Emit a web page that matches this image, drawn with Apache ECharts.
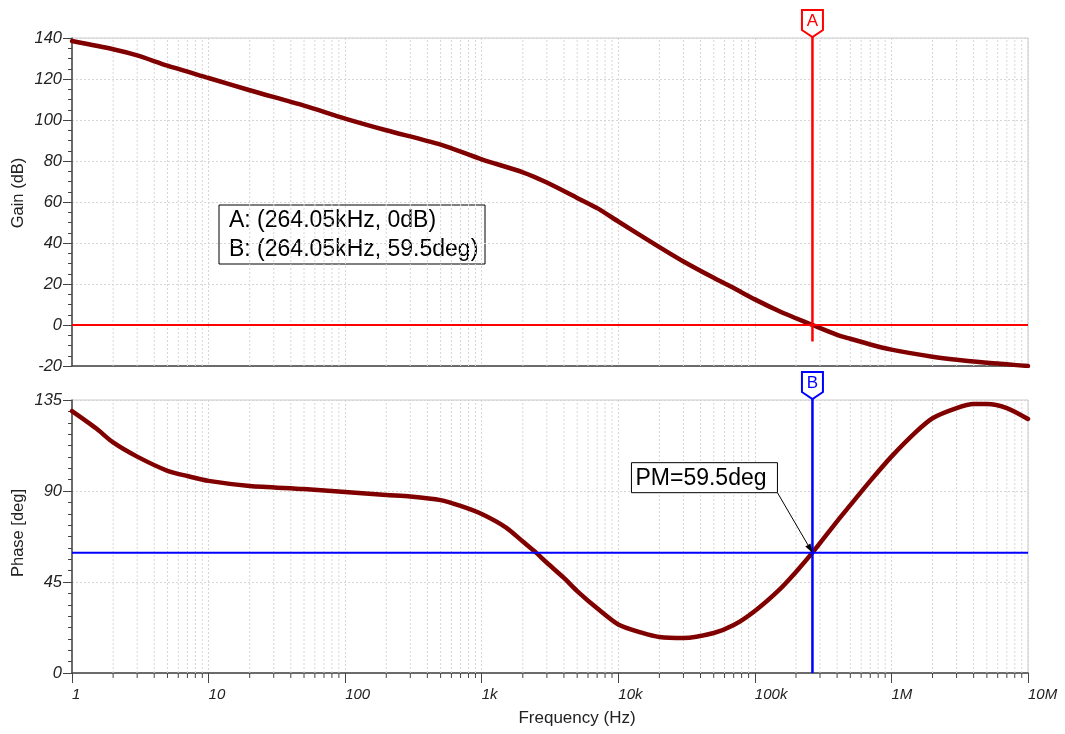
<!DOCTYPE html>
<html><head><meta charset="utf-8">
<script src="https://cdn.jsdelivr.net/npm/echarts@6/dist/echarts.min.js"></script>
<style>html,body{margin:0;padding:0;background:#fff}#c{width:1065px;height:734px}</style>
</head><body><div id="c"></div>
<script>
// ---- data ----
const gainFreqs = [1, 2, 3, 5, 10, 20, 50, 100, 200, 500, 1000, 2000, 3000, 5000, 7000, 10000, 20000, 30000, 50000, 70000, 100000, 150000, 200000, 264050, 400000, 500000, 700000, 1e6, 2e6, 3e6, 5e6, 7e6, 1e7];
const gainDb    = [138.5, 134.5, 131.5, 126.5, 120.5, 114.5, 107, 100.7, 95, 88, 80.8, 74.5, 69.5, 62, 57, 50.5, 38, 31, 23, 18, 12.5, 6.8, 3.3, 0, -4.8, -6.7, -9.5, -12, -15.5, -17, -18.4, -19.2, -20];
const phaseFreqs = [1, 1.5, 2, 3, 5, 7, 10, 20, 50, 100, 200, 300, 500, 700, 1000, 1500, 2000, 2500, 3000, 4000, 5000, 7000, 10000, 15000, 20000, 30000, 50000, 70000, 100000, 150000, 200000, 264050, 400000, 500000, 700000, 1e6, 1.5e6, 2e6, 3e6, 4e6, 5e6, 7e6, 1e7];
const phaseDeg   = [129.5, 121, 114, 107, 100, 97.4, 95, 92.5, 91, 89.5, 88, 87.3, 85.5, 82.6, 78.6, 72, 65, 59.5, 54.5, 47, 40.5, 32, 24, 19.8, 17.8, 17.3, 19.8, 23.7, 30.7, 41, 50, 59.5, 75, 83, 95, 107, 119, 126, 131, 133, 133, 131, 125.6];
const decadeLabels = ['1', '10', '100', '1k', '10k', '100k', '1M', '10M'];
const cursorFreq = 264050;   // Hz
const cursorGain = 0;        // dB
const cursorPhase = 59.5;    // deg
const gainRange = { min: -20, max: 140, interval: 20 };
const phaseRange = { min: 0, max: 135, interval: 45 };
const cursorALow = -8;       // where the A cursor line stops (dB)

// ---- helpers ----
const lg = Math.log10;
const minorLogs = [];
for (let d = 0; d < 7; d++) for (let k = 2; k <= 9; k++) minorLogs.push(lg(k * Math.pow(10, d)));

const FONT = '"Liberation Sans", Arial, sans-serif';
const CURVE = '#800000';
const AXIS = '#444';
const GRIDC = '#d6d6d6';

function xAxisCfg(gi, labels) {
  return {
    type: 'value', gridIndex: gi, min: 0, max: 7, interval: 1,
    axisLine: { show: true, onZero: false, lineStyle: { color: AXIS, width: 1.5 } },
    axisTick: { show: labels, length: 10, lineStyle: { color: AXIS, width: 1 } },
    axisLabel: {
      show: labels, formatter: v => decadeLabels[Math.round(v)], align: 'left',
      fontStyle: 'italic', fontSize: 15, fontFamily: FONT, color: '#222', margin: 14
    },
    splitLine: { show: true, lineStyle: { color: GRIDC, width: 1, type: [2, 2] } }
  };
}
function yAxisCfg(gi, r, minorSplit) {
  return {
    type: 'value', gridIndex: gi, min: r.min, max: r.max, interval: r.interval,
    axisLine: { show: true, lineStyle: { color: AXIS, width: 1.5 } },
    axisTick: { show: true, length: 9, lineStyle: { color: AXIS, width: 1 } },
    minorTick: { show: true, splitNumber: minorSplit, length: 4, lineStyle: { color: AXIS, width: 1 } },
    axisLabel: { fontStyle: 'italic', fontSize: 16.5, fontFamily: FONT, color: '#222', margin: 10 },
    splitLine: { show: true, lineStyle: { color: GRIDC, width: 1, type: [2, 2] } }
  };
}
function minorGridSeries(gi, r, ticks) {
  return {
    type: 'custom', xAxisIndex: gi, yAxisIndex: gi, silent: true, z: 1,
    data: minorLogs.map(v => [v, r.min, r.max]),
    renderItem(params, api) {
      const x = api.value(0);
      const p0 = api.coord([x, api.value(1)]);
      const p1 = api.coord([x, api.value(2)]);
      const ch = [{ type: 'line', shape: { x1: p0[0], y1: p0[1], x2: p1[0], y2: p1[1] },
        style: { stroke: GRIDC, lineWidth: 1, lineDash: [2, 2] } }];
      if (ticks) ch.push({ type: 'line', shape: { x1: p0[0], y1: p0[1], x2: p0[0], y2: p0[1] + 5 },
        style: { stroke: AXIS, lineWidth: 1 } });
      return { type: 'group', children: ch };
    }
  };
}
function cursorSeries(gi, letter, color, yTop, yBot) {
  return {
    type: 'custom', xAxisIndex: gi, yAxisIndex: gi, silent: true, z: 20,
    data: [[lg(cursorFreq), yTop, yBot]],
    renderItem(params, api) {
      const x = api.value(0);
      const t = api.coord([x, api.value(1)]);
      const b = api.coord([x, api.value(2)]);
      const cx = t[0], ty = t[1];
      return { type: 'group', children: [
        { type: 'line', shape: { x1: cx, y1: ty - 1, x2: b[0], y2: b[1] }, style: { stroke: color, lineWidth: 2.5 } },
        { type: 'polygon', shape: { points: [[cx - 10.5, ty - 28], [cx + 10.5, ty - 28], [cx + 10.5, ty - 8], [cx, ty - 1], [cx - 10.5, ty - 8]] },
          style: { fill: '#fff', stroke: color, lineWidth: 2 } },
        { type: 'text', style: { text: letter, x: cx, y: ty - 17, fill: color, font: '17px ' + FONT,
          align: 'center', verticalAlign: 'middle', textAlign: 'center', textVerticalAlign: 'middle' } }
      ] };
    }
  };
}
function hLine(gi, y, color) {
  return { type: 'line', xAxisIndex: gi, yAxisIndex: gi, data: [[0, y], [7, y]], showSymbol: false, silent: true,
    z: 15, lineStyle: { color: color, width: 2 } };
}
function curve(gi, fs, vs) {
  return { type: 'line', xAxisIndex: gi, yAxisIndex: gi, data: fs.map((f, i) => [lg(f), vs[i]]),
    showSymbol: false, smooth: 0.25, silent: true, z: 10,
    lineStyle: { color: CURVE, width: 4.5, cap: 'round', join: 'round' } };
}

const kHz = (cursorFreq / 1000).toFixed(2) + 'kHz';
const option = {
  animation: false,
  backgroundColor: '#fff',
  grid: [
    { left: 72, top: 38, width: 956, height: 328, show: true, borderColor: '#c8c8c8', borderWidth: 1 },
    { left: 72, top: 400, width: 956, height: 273, show: true, borderColor: '#c8c8c8', borderWidth: 1 }
  ],
  xAxis: [xAxisCfg(0, false), xAxisCfg(1, true)],
  yAxis: [yAxisCfg(0, gainRange, 4), yAxisCfg(1, phaseRange, 8)],
  series: [
    minorGridSeries(0, gainRange, false),
    minorGridSeries(1, phaseRange, true),
    curve(0, gainFreqs, gainDb),
    curve(1, phaseFreqs, phaseDeg),
    hLine(0, cursorGain, '#ff0000'),
    hLine(1, cursorPhase, '#0000ff'),
    cursorSeries(0, 'A', '#ff0000', gainRange.max, cursorALow),
    cursorSeries(1, 'B', '#0000ff', phaseRange.max, phaseRange.min),
    { type: 'custom', xAxisIndex: 1, yAxisIndex: 1, silent: true, z: 25,
      data: [[lg(cursorFreq), cursorPhase]],
      renderItem(params, api) {
        const p = api.coord([api.value(0), api.value(1)]);
        const bx = p[0] - 181, by = p[1] - 90, bw = 146, bh = 30;
        const sx = bx + bw, sy = by + bh;
        const dx = p[0] - sx, dy = p[1] - sy, L = Math.hypot(dx, dy), ux = dx / L, uy = dy / L;
        const hx = p[0] - ux * 9, hy = p[1] - uy * 9;
        return { type: 'group', children: [
          { type: 'line', shape: { x1: sx, y1: sy, x2: hx, y2: hy }, style: { stroke: '#000', lineWidth: 1 } },
          { type: 'polygon', shape: { points: [[p[0], p[1]], [hx - uy * 3, hy + ux * 3], [hx + uy * 3, hy - ux * 3]] }, style: { fill: '#000' } },
          { type: 'rect', shape: { x: bx, y: by, width: bw, height: bh }, style: { fill: '#fff', stroke: '#000', lineWidth: 1 } },
          { type: 'text', style: { text: 'PM=' + cursorPhase + 'deg', x: bx + 4, y: by + bh / 2 + 1, fill: '#000', font: '23px ' + FONT,
            align: 'left', verticalAlign: 'middle', textAlign: 'left', textVerticalAlign: 'middle' } }
        ] };
      }
    }
  ],
  graphic: [
    { type: 'group', x: 219, y: 205, z: 30, children: [
      { type: 'rect', shape: { x: 0, y: 0, width: 266, height: 59 }, style: { fill: '#fff', stroke: '#000', lineWidth: 1 } },
      { type: 'text', style: { text: 'A: (' + kHz + ', ' + cursorGain + 'dB)', x: 10, y: 16, fill: '#000', font: '23px ' + FONT, verticalAlign: 'middle', textVerticalAlign: 'middle' } },
      { type: 'text', style: { text: 'B: (' + kHz + ', ' + cursorPhase + 'deg)', x: 10, y: 45, fill: '#000', font: '23px ' + FONT, verticalAlign: 'middle', textVerticalAlign: 'middle' } }
    ] },
    { type: 'text', x: 18, y: 193, rotation: Math.PI / 2, style: { text: 'Gain (dB)', fill: '#222', font: '16.5px ' + FONT, align: 'center', verticalAlign: 'middle', textAlign: 'center', textVerticalAlign: 'middle' } },
    { type: 'text', x: 18, y: 533, rotation: Math.PI / 2, style: { text: 'Phase [deg]', fill: '#222', font: '16.5px ' + FONT, align: 'center', verticalAlign: 'middle', textAlign: 'center', textVerticalAlign: 'middle' } },
    { type: 'text', x: 577, y: 718, style: { text: 'Frequency (Hz)', fill: '#222', font: '17px ' + FONT, align: 'center', verticalAlign: 'middle', textAlign: 'center', textVerticalAlign: 'middle' } }
  ]
};
const chart = echarts.init(document.getElementById('c'), null, { renderer: 'canvas' });
chart.setOption(option);
</script>
</body></html>
